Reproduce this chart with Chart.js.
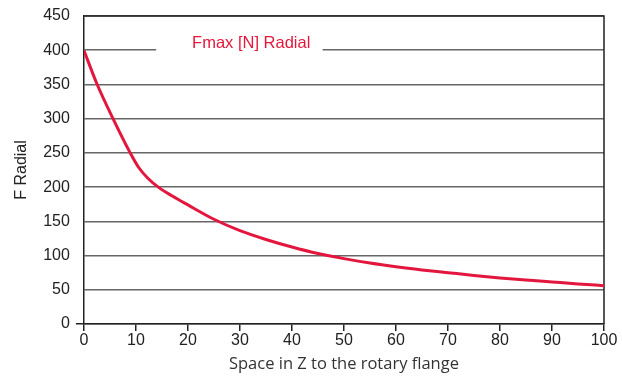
<!DOCTYPE html>
<html><head><meta charset="utf-8">
<script src="https://cdn.jsdelivr.net/npm/chart.js@4/dist/chart.umd.min.js"></script>
<style>html,body{margin:0;padding:0;background:#fff}#wrap{width:622px;height:378px}</style>
</head><body><div id="wrap"><canvas id="c" width="622" height="378"></canvas></div>
<script>
const zValues = [0, 2.5, 5.6, 8.9, 10.5, 12.3, 14.3, 17, 20, 25, 30, 35, 40, 45, 50, 55, 60, 65, 70, 75, 80, 85, 90, 95, 100];
const fRadial = [400, 351, 300, 250, 229, 213, 200, 187, 174, 153, 136.4, 123.5, 112.5, 103, 95.5, 89, 83.6, 79, 75, 71, 67.3, 64.2, 61.4, 58.6, 56];
const seriesName = 'Fmax [N] Radial';
const xTitle = 'Space in Z to the rotary flange';
const yTitle = 'F Radial';

const tickFont = {family: "'Liberation Sans',Arial,sans-serif", size: 16};

const frame = {
  id: 'frame',
  beforeDatasetsDraw(chart) {
    const {ctx, chartArea: a, scales: {x, y}} = chart;
    ctx.save();
    const yy = y.getPixelForValue(400);
    ctx.fillStyle = '#fff';
    ctx.fillRect(x.getPixelForValue(13.9), yy - 3, x.getPixelForValue(45.9) - x.getPixelForValue(13.9), 6);
    ctx.fillStyle = '#e4183c';
    ctx.font = "16.5px 'Liberation Sans',Arial,sans-serif";
    ctx.textAlign = 'left';
    ctx.textBaseline = 'alphabetic';
    ctx.fillText(seriesName, x.getPixelForValue(20.8), yy - 2);
    ctx.strokeStyle = '#222';
    ctx.lineWidth = 1.5;
    ctx.beginPath();
    ctx.moveTo(a.left, a.top); ctx.lineTo(a.right, a.top); ctx.lineTo(a.right, a.bottom);
    ctx.stroke();
    ctx.restore();
  }
};

new Chart(document.getElementById('c'), {
  type: 'line',
  data: {
    datasets: [{
      label: seriesName,
      data: zValues.map((z, i) => ({x: z, y: fRadial[i]})),
      borderColor: '#e3173e',
      borderWidth: 3,
      pointRadius: 0,
      fill: false,
      cubicInterpolationMode: 'monotone'
    }]
  },
  options: {
    responsive: false,
    animation: false,
    layout: {padding: {top: 16, right: 18, left: 12, bottom: 4}},
    plugins: {legend: {display: false}, tooltip: {enabled: false}},
    scales: {
      x: {
        type: 'linear', min: 0, max: 100,
        ticks: {stepSize: 10, color: '#222', font: tickFont, padding: 0, maxRotation: 0},
        grid: {drawOnChartArea: false, tickLength: 7, tickColor: '#222', lineWidth: 1.5},
        border: {color: '#222', width: 1.5},
        title: {display: true, text: xTitle, color: '#333', padding: {top: 4, bottom: 0},
          font: {family: "'Open Sans','Noto Sans',sans-serif", size: 16.5}}
      },
      y: {
        min: 0, max: 450,
        ticks: {stepSize: 50, color: '#222', font: tickFont, padding: 6},
        grid: {color: '#666', lineWidth: 1.5, tickLength: 8,
          tickColor: (c) => c.tick && c.tick.value === 0 ? '#222' : 'rgba(0,0,0,0)'},
        border: {color: '#222', width: 1.5},
        title: {display: true, text: yTitle, color: '#222', padding: {top: 0, bottom: 6},
          font: {family: "'Liberation Sans',Arial,sans-serif", size: 16}}
      }
    }
  },
  plugins: [frame]
});
</script></body></html>
